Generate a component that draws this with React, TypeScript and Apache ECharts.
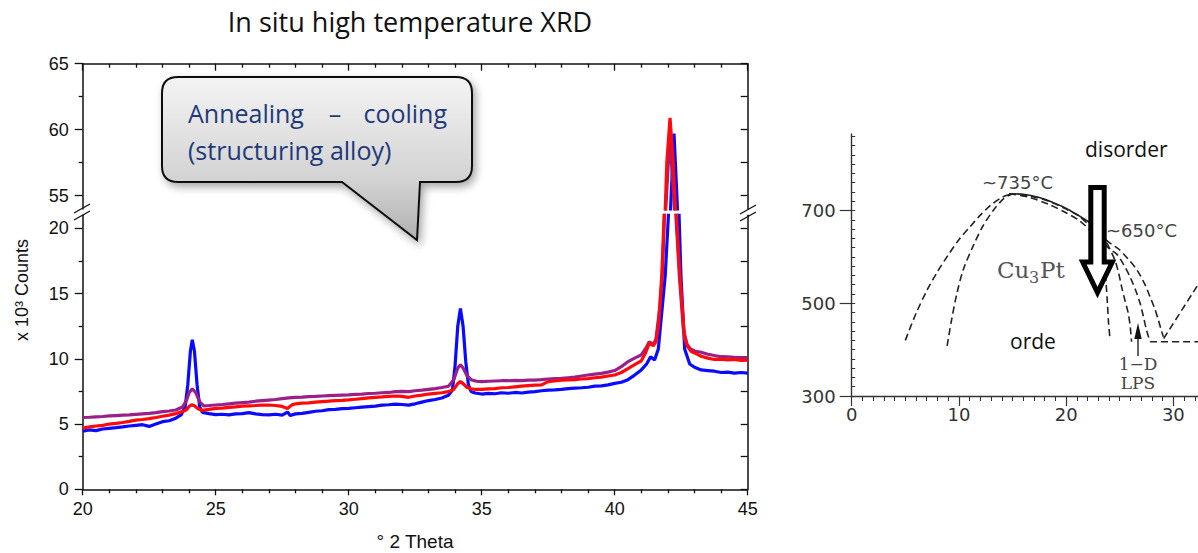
import React, { useEffect, useRef } from "react";
import * as echarts from "echarts";

// ---------- XRD scans: [2θ (°), counts (x10^3)] ----------
const blueScan: number[][] = [
  [20.0, 4.45], [20.25, 4.55], [20.5, 4.5], [20.75, 4.62], [21.0, 4.67], [21.25, 4.72], [21.5, 4.78], [21.75, 4.85],
  [22.0, 4.9], [22.25, 4.95], [22.5, 4.82], [22.75, 5.0], [23.0, 5.18], [23.25, 5.25], [23.5, 5.45], [23.7, 5.7],
  [23.85, 6.3], [23.95, 8.0], [24.05, 10.6], [24.12, 11.45], [24.2, 10.6], [24.3, 8.0], [24.4, 6.3], [24.5, 5.9],
  [24.75, 5.8], [25.0, 5.72], [25.25, 5.75], [25.5, 5.7], [25.75, 5.78], [26.0, 5.8], [26.25, 5.88], [26.5, 5.78],
  [26.75, 5.72], [27.0, 5.7], [27.25, 5.75], [27.5, 5.68], [27.7, 5.92], [27.8, 5.65], [28.0, 5.78], [28.25, 5.82],
  [28.5, 5.9], [28.75, 5.98], [29.0, 6.02], [29.25, 6.1], [29.5, 6.12], [29.75, 6.18], [30.0, 6.2], [30.25, 6.25],
  [30.5, 6.3], [30.75, 6.34], [31.0, 6.38], [31.25, 6.45], [31.5, 6.48], [31.75, 6.52], [32.0, 6.5], [32.25, 6.45],
  [32.5, 6.55], [32.75, 6.68], [33.0, 6.8], [33.25, 6.88], [33.5, 7.0], [33.75, 7.2], [33.9, 7.6], [34.0, 9.5],
  [34.1, 12.5], [34.2, 13.85], [34.3, 12.5], [34.4, 9.8], [34.5, 8.0], [34.6, 7.5], [34.75, 7.38], [35.0, 7.3],
  [35.25, 7.35], [35.5, 7.32], [35.75, 7.4], [36.0, 7.36], [36.25, 7.42], [36.5, 7.38], [36.75, 7.45], [37.0, 7.48],
  [37.25, 7.55], [37.5, 7.6], [37.75, 7.62], [38.0, 7.66], [38.25, 7.72], [38.5, 7.75], [38.75, 7.78], [39.0, 7.82],
  [39.25, 7.9], [39.5, 7.92], [39.75, 8.0], [40.0, 8.12], [40.25, 8.2], [40.5, 8.4], [40.75, 8.75], [41.0, 9.15],
  [41.2, 9.6], [41.35, 10.15], [41.5, 9.9], [41.64, 10.76], [41.9, 16.4], [42.02, 21.0], [42.1, 54.0], [42.23, 59.7],
  [42.36, 54.0], [42.42, 21.0], [42.49, 16.4], [42.63, 10.76], [42.82, 9.6], [43.0, 9.35], [43.25, 9.15], [43.5, 9.1],
  [43.75, 9.05], [44.0, 8.95], [44.25, 8.98], [44.5, 8.9], [44.75, 8.95], [45.0, 8.9],
];

const redScan: number[][] = [
  [20.0, 4.7], [20.25, 4.78], [20.5, 4.85], [20.75, 4.9], [21.0, 5.0], [21.25, 5.05], [21.5, 5.12], [21.75, 5.2],
  [22.0, 5.3], [22.25, 5.35], [22.5, 5.42], [22.75, 5.5], [23.0, 5.6], [23.25, 5.68], [23.5, 5.8], [23.75, 5.95],
  [23.9, 6.1], [24.0, 6.35], [24.1, 6.48], [24.2, 6.4], [24.35, 6.15], [24.5, 6.05], [24.75, 6.12], [25.0, 6.2],
  [25.25, 6.22], [25.5, 6.28], [25.75, 6.32], [26.0, 6.38], [26.25, 6.4], [26.5, 6.42], [26.75, 6.45], [27.0, 6.46],
  [27.25, 6.42], [27.5, 6.35], [27.7, 6.2], [27.85, 6.45], [28.0, 6.55], [28.25, 6.6], [28.5, 6.62], [28.75, 6.68],
  [29.0, 6.72], [29.25, 6.75], [29.5, 6.8], [29.75, 6.82], [30.0, 6.85], [30.25, 6.9], [30.5, 6.95], [30.75, 7.0],
  [31.0, 7.05], [31.25, 7.08], [31.5, 7.12], [31.75, 7.15], [32.0, 7.12], [32.25, 7.05], [32.5, 7.15], [32.75, 7.22],
  [33.0, 7.3], [33.25, 7.35], [33.5, 7.4], [33.75, 7.48], [33.95, 7.65], [34.1, 8.1], [34.2, 8.25], [34.3, 8.1],
  [34.45, 7.8], [34.6, 7.7], [34.8, 7.65], [35.0, 7.66], [35.25, 7.7], [35.5, 7.72], [35.75, 7.78], [36.0, 7.8],
  [36.25, 7.85], [36.5, 7.9], [36.75, 7.95], [37.0, 7.98], [37.25, 8.0], [37.5, 8.25], [37.75, 8.3], [38.0, 8.36],
  [38.25, 8.38], [38.5, 8.4], [38.75, 8.45], [39.0, 8.48], [39.25, 8.55], [39.5, 8.6], [39.75, 8.68], [40.0, 8.76],
  [40.25, 8.95], [40.5, 9.25], [40.75, 9.55], [41.0, 9.85], [41.15, 10.4], [41.3, 11.2], [41.45, 11.0], [41.55, 11.3],
  [41.65, 12.6], [41.77, 16.4], [41.86, 21.0], [41.9, 54.0], [41.96, 57.5], [42.08, 60.9], [42.2, 57.5], [42.28, 54.0],
  [42.32, 21.0], [42.45, 16.4], [42.63, 11.5], [42.75, 10.9], [42.88, 10.55], [43.0, 10.45], [43.25, 10.2], [43.5, 10.05],
  [43.75, 9.95], [44.0, 9.98], [44.25, 9.92], [44.5, 9.95], [44.75, 9.88], [45.0, 9.9],
];

const purpleScan: number[][] = [
  [20.0, 5.5], [20.25, 5.52], [20.5, 5.55], [20.75, 5.58], [21.0, 5.62], [21.25, 5.65], [21.5, 5.68], [21.75, 5.7],
  [22.0, 5.74], [22.25, 5.78], [22.5, 5.82], [22.75, 5.88], [23.0, 5.95], [23.25, 6.0], [23.5, 6.08], [23.75, 6.3],
  [23.9, 6.8], [24.0, 7.4], [24.12, 7.7], [24.25, 7.4], [24.4, 6.7], [24.55, 6.4], [24.75, 6.42], [25.0, 6.46],
  [25.25, 6.5], [25.5, 6.55], [25.75, 6.6], [26.0, 6.64], [26.25, 6.68], [26.5, 6.75], [26.75, 6.8], [27.0, 6.84],
  [27.25, 6.88], [27.5, 6.95], [27.75, 7.0], [28.0, 7.05], [28.25, 7.06], [28.5, 7.1], [28.75, 7.12], [29.0, 7.15],
  [29.25, 7.18], [29.5, 7.2], [29.75, 7.22], [30.0, 7.23], [30.25, 7.28], [30.5, 7.3], [30.75, 7.34], [31.0, 7.36],
  [31.25, 7.4], [31.5, 7.42], [31.75, 7.48], [32.0, 7.5], [32.25, 7.48], [32.5, 7.55], [32.75, 7.6], [33.0, 7.66],
  [33.25, 7.72], [33.5, 7.8], [33.75, 7.9], [33.95, 8.4], [34.1, 9.3], [34.2, 9.55], [34.3, 9.3], [34.45, 8.7],
  [34.6, 8.4], [34.8, 8.28], [35.0, 8.25], [35.25, 8.28], [35.5, 8.3], [35.75, 8.32], [36.0, 8.32], [36.25, 8.35],
  [36.5, 8.33], [36.75, 8.36], [37.0, 8.37], [37.25, 8.4], [37.5, 8.45], [37.75, 8.48], [38.0, 8.5], [38.25, 8.55],
  [38.5, 8.6], [38.75, 8.68], [39.0, 8.76], [39.25, 8.82], [39.5, 8.88], [39.75, 8.98], [40.0, 9.1], [40.25, 9.4],
  [40.5, 9.78], [40.75, 10.05], [41.0, 10.3], [41.2, 10.9], [41.3, 11.3], [41.45, 11.1], [41.55, 11.5], [41.7, 14.0],
  [41.79, 16.4], [41.87, 21.0], [41.92, 54.0], [42.07, 59.5], [42.25, 54.0], [42.3, 21.0], [42.43, 16.4], [42.58, 12.3],
  [42.72, 11.1], [42.85, 10.75], [43.0, 10.6], [43.25, 10.5], [43.5, 10.35], [43.75, 10.25], [44.0, 10.16],
  [44.25, 10.15], [44.5, 10.12], [44.75, 10.1], [45.0, 10.1],
];

// ---------- XRD axis ticks ----------
const upperMajorTicks = [55, 60, 65];
const upperMinorTicks = [57.5, 62.5];
const upperRightTicks = [55, 57.5, 60, 62.5, 65];
const lowerMajorTicks = [0, 5, 10, 15, 20];
const lowerMinorTicks = [2.5, 7.5, 12.5, 17.5];
const lowerRightTicks = [0, 2.5, 5, 7.5, 10, 12.5, 15, 17.5, 20];

// ---------- Phase diagram (x: at.% Pt, y: T °C) ----------
const phaseXTicks = [0, 10, 20, 30];
const phaseYTicks = [300, 500, 700];
const phaseOuterLeft: number[][] = [
  [5, 420], [6, 478], [7, 527], [8, 568], [9, 604], [10, 637], [11, 664], [12, 690], [13, 712], [14, 728], [14.8, 735],
];
const phaseInnerLeft: number[][] = [
  [8.9, 408], [9.3, 462], [9.8, 520], [10.4, 572], [11.3, 622], [12.2, 665], [13.2, 700], [14.2, 726], [14.9, 735],
];
const phaseSolid: number[][] = [
  [14.7, 736], [16, 735], [17.5, 728], [18.8, 717], [19.7, 708], [20.8, 694], [21.6, 683], [22.3, 672], [23.2, 652],
];
const phaseBranchOuter: number[][] = [
  [14.7, 736], [16.5, 732], [18.5, 719], [20, 703], [21.2, 688], [22.3, 665], [23.3, 645], [24.2, 628], [24.9, 617],
  [25.8, 595], [26.6, 572], [27.3, 543], [27.83, 514], [28.3, 486], [28.6, 464], [28.9, 440], [29.07, 428],
];
const phaseBranchMid: number[][] = [
  [14.7, 736], [16.5, 729], [18.5, 712], [20, 695], [21.2, 679], [22.3, 656], [23.3, 634], [24.1, 616], [24.72, 606],
  [25.4, 582], [25.96, 557], [26.5, 527], [26.9, 500], [27.2, 472], [27.5, 442], [27.83, 417],
];
const phaseBranchInner: number[][] = [
  [23.8, 630], [24.55, 593], [24.9, 565], [25.17, 536], [25.5, 505], [25.8, 478], [26.0, 445], [26.1, 417],
];
const phaseBranchSteep: number[][] = [
  [23.4, 610], [23.7, 550], [23.85, 500], [23.95, 460], [24.1, 421],
];
const phaseRising: number[][] = [[29.1, 424], [32.3, 540]];
const phaseFlat: number[][] = [[27.83, 417], [32.3, 417]];

const CALLOUT_PATH =
  "M178,77 L456,77 Q472,77 472,93 L472,166 Q472,182 456,182 L420,182 L417,240 L342,182 L178,182 Q162,182 162,166 L162,93 Q162,77 178,77 Z";

let registered = false;
function registerShapes() {
  if (registered) return;
  registered = true;
  echarts.graphic.registerShape("callout", echarts.graphic.extendPath(CALLOUT_PATH, {}) as any);
}

const AX = "#111";
const SANS = "Liberation Sans, Arial, sans-serif";
const OPEN = "Open Sans, sans-serif";

function buildOption(): any {
  const axisLine = { show: true, onZero: false, lineStyle: { color: AX, width: 1.5 } };
  const tickStyle = { color: AX, width: 1.3 };
  const noSplit = { show: false };

  const scans = [
    { data: blueScan, color: "#0a0aff" },
    { data: purpleScan, color: "#9a1f88" },
    { data: redScan, color: "#ff0a0a" },
  ];
  const xrdSeries: any[] = [];
  scans.forEach((s) => {
    [0, 1].forEach((g) => {
      xrdSeries.push({
        type: "line",
        xAxisIndex: g,
        yAxisIndex: g === 0 ? 0 : 3,
        data: s.data,
        showSymbol: false,
        symbol: "none",
        silent: true,
        clip: true,
        lineStyle: { color: s.color, width: 3.2 },
      });
    });
  });

  const phaseLine = (data: number[][], dashed = true) => ({
    type: "line",
    xAxisIndex: 2,
    yAxisIndex: 6,
    data,
    showSymbol: false,
    symbol: "none",
    silent: true,
    smooth: 0.3,
    lineStyle: { color: "#222", width: 1.6, type: dashed ? [7, 4] : "solid" },
  });

  const phaseMinor: number[] = [];
  for (let t = 300; t <= 860; t += 20) phaseMinor.push(t);

  return {
    animation: false,
    backgroundColor: "#fff",
    grid: [
      { left: 82.7, top: 63.7, width: 665, height: 145.2, outerBoundsMode: "none" },
      { left: 82.7, top: 215.25, width: 665, height: 274.05, outerBoundsMode: "none" },
      { left: 851.7, top: 134, width: 346.3, height: 262, outerBoundsMode: "none" },
    ],
    xAxis: [
      {
        gridIndex: 0, type: "value", position: "top", min: 20, max: 45, interval: 5,
        axisLine, splitLine: noSplit,
        axisTick: { show: true, inside: true, length: 7, lineStyle: tickStyle },
        minorTick: { show: true, splitNumber: 5, length: 4, lineStyle: tickStyle },
        axisLabel: { show: false },
      },
      {
        gridIndex: 1, type: "value", position: "bottom", min: 20, max: 45, interval: 5,
        axisLine, splitLine: noSplit,
        axisTick: { show: true, length: 6, lineStyle: tickStyle },
        minorTick: { show: true, splitNumber: 5, length: 4, lineStyle: tickStyle },
        axisLabel: { fontSize: 18, color: "#111", fontFamily: SANS, margin: 11 },
      },
      {
        gridIndex: 2, type: "value", position: "bottom", min: 0, max: 32.3, interval: 10,
        axisLine: { show: true, onZero: false, lineStyle: { color: "#333", width: 1.4 } }, splitLine: noSplit,
        axisTick: { show: true, length: 10, customValues: phaseXTicks, lineStyle: { color: "#333", width: 1.2 } },
        minorTick: { show: true, splitNumber: 10, length: 5, lineStyle: { color: "#333", width: 1 } },
        axisLabel: { fontSize: 18, color: "#333", fontFamily: "DejaVu Sans, sans-serif", margin: 9, customValues: phaseXTicks },
      },
    ],
    yAxis: [
      {
        gridIndex: 0, type: "value", position: "left", min: 54, max: 65,
        axisLine, splitLine: noSplit,
        axisTick: { show: true, length: 8, customValues: upperMajorTicks, lineStyle: tickStyle },
        axisLabel: { fontSize: 18, color: "#111", fontFamily: SANS, margin: 14, customValues: upperMajorTicks },
      },
      {
        gridIndex: 0, type: "value", position: "left", min: 54, max: 65,
        axisLine: { show: false }, splitLine: noSplit,
        axisTick: { show: true, length: 4, customValues: upperMinorTicks, lineStyle: tickStyle },
        axisLabel: { show: false },
      },
      {
        gridIndex: 0, type: "value", position: "right", min: 54, max: 65,
        axisLine, splitLine: noSplit,
        axisTick: { show: true, inside: true, length: 7, customValues: upperRightTicks, lineStyle: tickStyle },
        axisLabel: { show: false },
      },
      {
        gridIndex: 1, type: "value", position: "left", min: 0, max: 21,
        axisLine, splitLine: noSplit,
        axisTick: { show: true, length: 8, customValues: lowerMajorTicks, lineStyle: tickStyle },
        axisLabel: { fontSize: 18, color: "#111", fontFamily: SANS, margin: 14, customValues: lowerMajorTicks },
      },
      {
        gridIndex: 1, type: "value", position: "left", min: 0, max: 21,
        axisLine: { show: false }, splitLine: noSplit,
        axisTick: { show: true, length: 4, customValues: lowerMinorTicks, lineStyle: tickStyle },
        axisLabel: { show: false },
      },
      {
        gridIndex: 1, type: "value", position: "right", min: 0, max: 21,
        axisLine, splitLine: noSplit,
        axisTick: { show: true, inside: true, length: 7, customValues: lowerRightTicks, lineStyle: tickStyle },
        axisLabel: { show: false },
      },
      {
        gridIndex: 2, type: "value", position: "left", min: 300, max: 865,
        axisLine: { show: true, onZero: false, lineStyle: { color: "#333", width: 1.4 } }, splitLine: noSplit,
        axisTick: { show: true, length: 12, customValues: phaseYTicks, lineStyle: { color: "#333", width: 1.2 } },
        axisLabel: { fontSize: 18, color: "#333", fontFamily: "DejaVu Sans, sans-serif", margin: 16, customValues: phaseYTicks },
      },
      {
        gridIndex: 2, type: "value", position: "left", min: 300, max: 865,
        axisLine: { show: false }, splitLine: noSplit,
        axisTick: { show: true, inside: true, length: 3.5, customValues: phaseMinor, lineStyle: { color: "#333", width: 1 } },
        axisLabel: { show: false },
      },
    ],
    series: [
      ...xrdSeries,
      phaseLine(phaseOuterLeft),
      phaseLine(phaseInnerLeft),
      phaseLine(phaseSolid, false),
      phaseLine(phaseBranchOuter),
      phaseLine(phaseBranchMid),
      phaseLine(phaseBranchInner),
      phaseLine(phaseBranchSteep),
      phaseLine(phaseRising),
      phaseLine(phaseFlat),
    ],
    graphic: [
      {
        type: "text", x: 410, y: 21, z: 100,
        style: { text: "In situ high temperature XRD", fill: "#111", fontSize: 27, fontFamily: OPEN, align: "center", verticalAlign: "middle" },
      },
      {
        type: "text", x: 22, y: 290, rotation: Math.PI / 2, z: 100,
        style: { text: "x 10³ Counts", fill: "#111", fontSize: 18, fontFamily: SANS, align: "center", verticalAlign: "middle" },
      },
      {
        type: "text", x: 415, y: 541, z: 100,
        style: { text: "° 2 Theta", fill: "#111", fontSize: 19, fontFamily: SANS, align: "center", verticalAlign: "middle" },
      },
      // axis break marks
      { type: "line", z: 100, shape: { x1: 74, y1: 213, x2: 90, y2: 204 }, style: { stroke: "#111", lineWidth: 1.4 } },
      { type: "line", z: 100, shape: { x1: 74, y1: 220, x2: 90, y2: 211 }, style: { stroke: "#111", lineWidth: 1.4 } },
      { type: "line", z: 100, shape: { x1: 740, y1: 214, x2: 756, y2: 205 }, style: { stroke: "#111", lineWidth: 1.4 } },
      { type: "line", z: 100, shape: { x1: 740, y1: 221, x2: 756, y2: 212 }, style: { stroke: "#111", lineWidth: 1.4 } },
      // callout
      {
        type: "callout", x: 0, y: 0, z: 90,
        style: {
          fill: new echarts.graphic.LinearGradient(0, 0, 0, 1, [
            { offset: 0, color: "#f4f4f4" },
            { offset: 0.64, color: "#d2d2d2" },
            { offset: 1, color: "#b0b0b0" },
          ]),
          stroke: "#111", lineWidth: 2,
          shadowBlur: 8, shadowColor: "rgba(0,0,0,0.35)", shadowOffsetX: 3, shadowOffsetY: 4,
        },
      },
      {
        type: "text", x: 188, y: 113, z: 95,
        style: { text: "Annealing", fill: "#1f3a7a", fontSize: 25, fontFamily: OPEN, align: "left", verticalAlign: "middle" },
      },
      {
        type: "text", x: 335, y: 113, z: 95,
        style: { text: "–", fill: "#1f3a7a", fontSize: 25, fontFamily: OPEN, align: "center", verticalAlign: "middle" },
      },
      {
        type: "text", x: 447, y: 113, z: 95,
        style: { text: "cooling", fill: "#1f3a7a", fontSize: 25, fontFamily: OPEN, align: "right", verticalAlign: "middle" },
      },
      {
        type: "text", x: 188, y: 150, z: 95,
        style: { text: "(structuring alloy)", fill: "#1f3a7a", fontSize: 25, fontFamily: OPEN, align: "left", verticalAlign: "middle" },
      },
      // phase diagram annotations
      {
        type: "text", x: 1085, y: 149, z: 100,
        style: { text: "disorder", fill: "#111", fontSize: 21, fontFamily: OPEN, align: "left", verticalAlign: "middle" },
      },
      {
        type: "text", x: 1010, y: 341, z: 100,
        style: { text: "orde", fill: "#111", fontSize: 21, fontFamily: OPEN, align: "left", verticalAlign: "middle" },
      },
      {
        type: "text", x: 982, y: 182, z: 100,
        style: { text: "~735°C", fill: "#444", fontSize: 18, fontFamily: "DejaVu Sans, sans-serif", align: "left", verticalAlign: "middle" },
      },
      {
        type: "text", x: 1106, y: 230, z: 100,
        style: { text: "~650°C", fill: "#444", fontSize: 18, fontFamily: "DejaVu Sans, sans-serif", align: "left", verticalAlign: "middle" },
      },
      {
        type: "text", x: 997, y: 270, z: 100,
        style: { text: "Cu", fill: "#555", fontSize: 23, fontFamily: "DejaVu Serif, serif", align: "left", verticalAlign: "middle" },
      },
      {
        type: "text", x: 1029, y: 277, z: 100,
        style: { text: "3", fill: "#555", fontSize: 16, fontFamily: "DejaVu Serif, serif", align: "left", verticalAlign: "middle" },
      },
      {
        type: "text", x: 1040, y: 270, z: 100,
        style: { text: "Pt", fill: "#555", fontSize: 23, fontFamily: "DejaVu Serif, serif", align: "left", verticalAlign: "middle" },
      },
      {
        type: "text", x: 1138, y: 364, z: 100,
        style: { text: "1−D", fill: "#444", fontSize: 17, fontFamily: "DejaVu Serif, serif", align: "center", verticalAlign: "middle" },
      },
      {
        type: "text", x: 1138, y: 383, z: 100,
        style: { text: "LPS", fill: "#444", fontSize: 17, fontFamily: "DejaVu Serif, serif", align: "center", verticalAlign: "middle" },
      },
      { type: "line", z: 100, shape: { x1: 1138, y1: 356, x2: 1138, y2: 336 }, style: { stroke: "#111", lineWidth: 1.3 } },
      { type: "polygon", z: 100, shape: { points: [[1134.3, 339], [1141.7, 339], [1138, 323]] }, style: { fill: "#111" } },
      // big cooling arrow
      {
        type: "polygon", z: 110,
        shape: { points: [[1090.8, 187.5], [1104.2, 187.5], [1104.2, 262], [1112.3, 262], [1097.5, 292.5], [1082.7, 262], [1090.8, 262]] },
        style: { fill: "#fff", stroke: "#000", lineWidth: 5, lineJoin: "miter", miterLimit: 10 },
      },
    ],
  };
}

export default function App() {
  const ref = useRef<HTMLDivElement>(null);
  useEffect(() => {
    if (!ref.current) return;
    registerShapes();
    const chart = echarts.init(ref.current, null, { renderer: "svg" });
    chart.setOption(buildOption());
    return () => chart.dispose();
  }, []);
  return (
    <div
      ref={ref}
      style={{ position: "fixed", left: 0, top: 0, width: 1198, height: 553, background: "#fff" }}
    />
  );
}
